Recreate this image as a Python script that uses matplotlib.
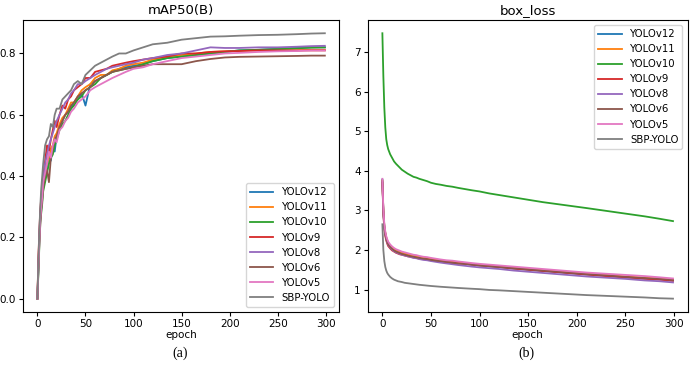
import matplotlib
matplotlib.use("Agg")
import matplotlib.pyplot as plt

# epochs sampled from the curves
epochs = [0, 1, 2, 3, 4, 5, 6, 8, 10, 12, 14, 16, 18, 20, 23, 26, 29, 32, 35, 38, 42, 46,
          50, 55, 60, 66, 72, 78, 85, 92, 100, 110, 120, 135, 150, 165, 180, 195, 210,
          230, 250, 270, 285, 299]

models = ["YOLOv12", "YOLOv11", "YOLOv10", "YOLOv9", "YOLOv8", "YOLOv6", "YOLOv5", "SBP-YOLO"]

# mAP50(B)
map_v12 = [0.0, 0.10, 0.19, 0.26, 0.30, 0.33, 0.37, 0.40, 0.43, 0.47, 0.45, 0.50, 0.48, 0.53,
           0.56, 0.58, 0.60, 0.61, 0.62, 0.64, 0.65, 0.67, 0.63, 0.70, 0.71, 0.72, 0.73, 0.74,
           0.75, 0.755, 0.76, 0.765, 0.775, 0.785, 0.79, 0.795, 0.80, 0.805, 0.81, 0.812,
           0.815, 0.818, 0.82, 0.82]
map_v11 = [0.0, 0.12, 0.20, 0.27, 0.31, 0.35, 0.36, 0.42, 0.44, 0.46, 0.49, 0.50, 0.53, 0.54,
           0.57, 0.59, 0.60, 0.62, 0.64, 0.64, 0.66, 0.68, 0.69, 0.70, 0.72, 0.73, 0.73, 0.745,
           0.75, 0.76, 0.765, 0.77, 0.78, 0.79, 0.795, 0.80, 0.805, 0.807, 0.808, 0.81,
           0.81, 0.81, 0.812, 0.812]
map_v10 = [0.0, 0.08, 0.17, 0.25, 0.28, 0.31, 0.35, 0.38, 0.41, 0.44, 0.46, 0.47, 0.50, 0.52,
           0.55, 0.57, 0.58, 0.60, 0.62, 0.63, 0.65, 0.66, 0.68, 0.69, 0.70, 0.72, 0.73, 0.74,
           0.745, 0.75, 0.755, 0.765, 0.775, 0.785, 0.79, 0.795, 0.80, 0.805, 0.81, 0.812,
           0.815, 0.817, 0.819, 0.82]
map_v9 = [0.0, 0.13, 0.22, 0.29, 0.33, 0.37, 0.40, 0.45, 0.50, 0.48, 0.52, 0.55, 0.58, 0.56,
          0.60, 0.63, 0.62, 0.65, 0.66, 0.68, 0.69, 0.70, 0.72, 0.72, 0.74, 0.745, 0.75, 0.76,
          0.765, 0.77, 0.775, 0.78, 0.785, 0.79, 0.80, 0.80, 0.805, 0.807, 0.808, 0.81,
          0.81, 0.81, 0.81, 0.81]
map_v8 = [0.0, 0.11, 0.21, 0.28, 0.32, 0.36, 0.39, 0.44, 0.47, 0.50, 0.52, 0.54, 0.56, 0.58,
          0.60, 0.62, 0.64, 0.65, 0.67, 0.68, 0.70, 0.70, 0.71, 0.72, 0.73, 0.74, 0.75, 0.755,
          0.76, 0.765, 0.77, 0.78, 0.785, 0.795, 0.80, 0.81, 0.82, 0.818, 0.818, 0.82,
          0.82, 0.822, 0.824, 0.825]
map_v6 = [0.0, 0.09, 0.18, 0.24, 0.29, 0.32, 0.36, 0.40, 0.42, 0.38, 0.46, 0.49, 0.52, 0.53,
          0.56, 0.58, 0.60, 0.61, 0.63, 0.64, 0.66, 0.67, 0.68, 0.69, 0.71, 0.72, 0.73, 0.74,
          0.745, 0.75, 0.755, 0.76, 0.765, 0.765, 0.765, 0.775, 0.782, 0.787, 0.789, 0.79,
          0.791, 0.792, 0.793, 0.793]
map_v5 = [0.0, 0.10, 0.18, 0.26, 0.30, 0.33, 0.38, 0.41, 0.44, 0.48, 0.46, 0.50, 0.52, 0.51,
          0.55, 0.56, 0.58, 0.59, 0.61, 0.62, 0.64, 0.65, 0.66, 0.68, 0.69, 0.70, 0.71, 0.72,
          0.73, 0.74, 0.75, 0.755, 0.765, 0.775, 0.785, 0.79, 0.795, 0.80, 0.802, 0.805,
          0.807, 0.808, 0.81, 0.81]
map_sbp = [0.0, 0.12, 0.22, 0.30, 0.36, 0.40, 0.44, 0.50, 0.52, 0.53, 0.57, 0.56, 0.60, 0.62,
           0.62, 0.65, 0.66, 0.67, 0.68, 0.70, 0.71, 0.70, 0.73, 0.745, 0.76, 0.77, 0.78, 0.79,
           0.80, 0.80, 0.81, 0.82, 0.83, 0.835, 0.845, 0.85, 0.855, 0.856, 0.858, 0.86,
           0.861, 0.863, 0.865, 0.866]

# box_loss
loss_v12 = [3.78, 3.0, 2.6, 2.42, 2.3, 2.22, 2.16, 2.09, 2.04, 2.0, 1.97, 1.95, 1.93, 1.91,
            1.89, 1.87, 1.85, 1.83, 1.82, 1.80, 1.79, 1.77, 1.76, 1.74, 1.72, 1.70, 1.68, 1.67,
            1.65, 1.63, 1.61, 1.59, 1.57, 1.53, 1.50, 1.47, 1.44, 1.41, 1.38, 1.35, 1.31,
            1.28, 1.26, 1.23]
loss_v11 = [3.75, 3.02, 2.62, 2.44, 2.32, 2.24, 2.18, 2.11, 2.06, 2.02, 1.99, 1.97, 1.95, 1.93,
            1.91, 1.89, 1.87, 1.85, 1.84, 1.82, 1.81, 1.79, 1.78, 1.76, 1.74, 1.72, 1.70, 1.69,
            1.67, 1.65, 1.63, 1.61, 1.59, 1.55, 1.52, 1.49, 1.46, 1.43, 1.40, 1.37, 1.33,
            1.30, 1.28, 1.25]
loss_v10 = [7.48, 6.4, 5.6, 5.1, 4.8, 4.65, 4.55, 4.42, 4.33, 4.24, 4.18, 4.13, 4.08, 4.03,
            3.98, 3.93, 3.89, 3.85, 3.83, 3.80, 3.77, 3.74, 3.70, 3.67, 3.65, 3.62, 3.60, 3.57,
            3.54, 3.51, 3.48, 3.43, 3.39, 3.33, 3.27, 3.21, 3.16, 3.11, 3.06, 2.99, 2.92,
            2.85, 2.79, 2.73]
loss_v9 = [3.70, 2.92, 2.52, 2.35, 2.24, 2.16, 2.10, 2.04, 1.99, 1.96, 1.93, 1.91, 1.89, 1.88,
           1.86, 1.84, 1.83, 1.81, 1.80, 1.78, 1.77, 1.76, 1.74, 1.73, 1.71, 1.69, 1.68, 1.66,
           1.65, 1.63, 1.61, 1.59, 1.57, 1.53, 1.50, 1.47, 1.44, 1.41, 1.38, 1.34, 1.31,
           1.27, 1.25, 1.22]
loss_v8 = [3.72, 2.95, 2.56, 2.39, 2.27, 2.19, 2.13, 2.06, 2.01, 1.97, 1.94, 1.92, 1.90, 1.88,
           1.86, 1.84, 1.82, 1.80, 1.79, 1.77, 1.75, 1.74, 1.72, 1.70, 1.68, 1.66, 1.64, 1.62,
           1.60, 1.58, 1.56, 1.54, 1.52, 1.48, 1.45, 1.42, 1.39, 1.36, 1.33, 1.30, 1.27,
           1.23, 1.21, 1.18]
loss_v6 = [3.76, 2.98, 2.59, 2.41, 2.29, 2.21, 2.15, 2.08, 2.03, 1.99, 1.96, 1.94, 1.92, 1.90,
           1.88, 1.86, 1.84, 1.83, 1.81, 1.80, 1.78, 1.77, 1.75, 1.73, 1.72, 1.70, 1.68, 1.66,
           1.65, 1.63, 1.61, 1.59, 1.57, 1.54, 1.51, 1.48, 1.45, 1.42, 1.39, 1.36, 1.32,
           1.29, 1.27, 1.24]
loss_v5 = [3.80, 3.05, 2.66, 2.47, 2.35, 2.27, 2.21, 2.14, 2.09, 2.05, 2.02, 2.00, 1.98, 1.96,
           1.94, 1.92, 1.90, 1.88, 1.87, 1.85, 1.83, 1.82, 1.80, 1.78, 1.76, 1.74, 1.73, 1.71,
           1.69, 1.67, 1.65, 1.63, 1.61, 1.58, 1.55, 1.52, 1.49, 1.46, 1.43, 1.40, 1.37,
           1.34, 1.31, 1.28]
loss_sbp = [2.65, 2.0, 1.72, 1.57, 1.48, 1.42, 1.38, 1.32, 1.28, 1.25, 1.23, 1.21, 1.20, 1.19,
            1.17, 1.16, 1.15, 1.14, 1.13, 1.12, 1.11, 1.10, 1.09, 1.08, 1.07, 1.06, 1.05, 1.04,
            1.03, 1.02, 1.01, 0.99, 0.98, 0.96, 0.94, 0.92, 0.90, 0.88, 0.86, 0.84, 0.82,
            0.80, 0.78, 0.77]

map_series = [map_v12, map_v11, map_v10, map_v9, map_v8, map_v6, map_v5, map_sbp]
loss_series = [loss_v12, loss_v11, loss_v10, loss_v9, loss_v8, loss_v6, loss_v5, loss_sbp]
colors = ["C0", "C1", "C2", "C3", "C4", "C5", "C6", "C7"]

fig = plt.figure(figsize=(6.98, 3.70), dpi=100)
ax1 = fig.add_axes([0.033, 0.157, 0.453, 0.789])
ax2 = fig.add_axes([0.527, 0.157, 0.458, 0.789])

for name, vals, c in zip(models, map_series, colors):
    ax1.plot(epochs, vals, color=c, lw=1.3, label=name)
for name, vals, c in zip(models, loss_series, colors):
    ax2.plot(epochs, vals, color=c, lw=1.3, label=name)

ax1.set_title("mAP50(B)", fontsize=9.5, pad=4)
ax2.set_title("box_loss", fontsize=9.5, pad=4)
for ax in (ax1, ax2):
    ax.set_xlabel("epoch", fontsize=7.5, labelpad=1)
    ax.tick_params(labelsize=7.5, length=3, pad=2)
    ax.set_xticks([0, 50, 100, 150, 200, 250, 300])
ax1.set_yticks([0.0, 0.2, 0.4, 0.6, 0.8])

ax1.legend(loc="lower right", fontsize=7.3, handlelength=2.3, labelspacing=0.5,
           borderpad=0.4, fancybox=True)
ax2.legend(loc="upper right", fontsize=7.3, handlelength=2.3, labelspacing=0.5,
           borderpad=0.4, fancybox=True)

fig.text(0.258, 0.035, "(a)", fontsize=10, family="Liberation Serif", ha="center")
fig.text(0.754, 0.035, "(b)", fontsize=10, family="Liberation Serif", ha="center")

fig.savefig("out.png", dpi=100)
